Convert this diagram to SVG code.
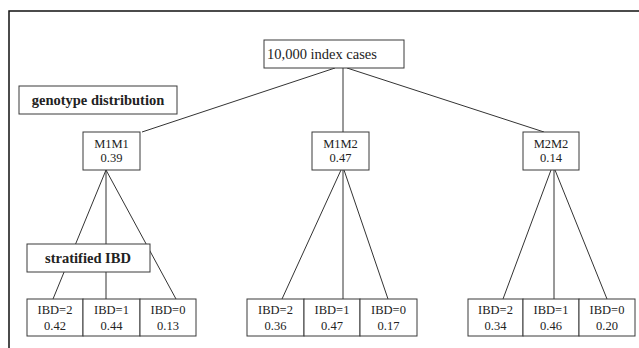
<svg xmlns="http://www.w3.org/2000/svg" width="639" height="348" viewBox="0 0 639 348">
<style>
.box{fill:#fff;stroke:#3a3a3a;stroke-width:1}
.ln{stroke:#333;stroke-width:1;fill:none}
.t{font-family:"Liberation Serif","Times New Roman",serif;fill:#222;text-anchor:middle;font-size:12.5px}
.b{font-family:"Liberation Serif","Times New Roman",serif;fill:#222;text-anchor:middle;font-size:14.5px;font-weight:bold}
</style>
<rect width="639" height="348" fill="#fff"/>
<path d="M9,348 V11 H639" fill="none" stroke="#111" stroke-width="1.5"/>
<g id="connectors">
<line class="ln" x1="335" y1="68" x2="142" y2="132"/>
<line class="ln" x1="343" y1="68" x2="343" y2="132"/>
<line class="ln" x1="347" y1="68" x2="544" y2="132"/>
<line class="ln" x1="106" y1="170" x2="53" y2="299"/>
<line class="ln" x1="106" y1="170" x2="106" y2="299"/>
<line class="ln" x1="106" y1="170" x2="176" y2="299"/>
<line class="ln" x1="341" y1="170" x2="282" y2="299"/>
<line class="ln" x1="343" y1="170" x2="343" y2="299"/>
<line class="ln" x1="344" y1="170" x2="388" y2="299"/>
<line class="ln" x1="551" y1="170" x2="503" y2="299"/>
<line class="ln" x1="554" y1="170" x2="554" y2="299"/>
<line class="ln" x1="555" y1="170" x2="607" y2="299"/>
</g>
<g id="root"><rect class="box" x="264" y="40" width="140" height="28"/><text class="t" x="267" y="59" style="text-anchor:start;font-size:14.5px">10,000 index cases</text></g>
<g id="genotype"><rect class="box" x="19" y="86" width="158" height="28"/><text class="b" x="98" y="105">genotype distribution</text></g>
<g id="m1m1"><rect class="box" x="83" y="132" width="57" height="38"/><text class="t" x="111.5" y="148">M1M1</text><text class="t" x="111.5" y="162">0.39</text></g>
<g id="m1m2"><rect class="box" x="312" y="132" width="57" height="38"/><text class="t" x="340.5" y="148">M1M2</text><text class="t" x="340.5" y="162">0.47</text></g>
<g id="m2m2"><rect class="box" x="523" y="132" width="56" height="38"/><text class="t" x="551" y="148">M2M2</text><text class="t" x="551" y="162">0.14</text></g>
<g id="stratified"><rect class="box" x="27" y="244" width="123" height="28"/><text class="b" x="88" y="263">stratified IBD</text></g>
<g id="a2"><rect class="box" x="27" y="299" width="56" height="37"/><text class="t" x="55" y="314">IBD=2</text><text class="t" x="55" y="330">0.42</text></g>
<g id="a1"><rect class="box" x="83" y="299" width="57" height="37"/><text class="t" x="111.5" y="314">IBD=1</text><text class="t" x="111.5" y="330">0.44</text></g>
<g id="a0"><rect class="box" x="140" y="299" width="56" height="37"/><text class="t" x="168" y="314">IBD=0</text><text class="t" x="168" y="330">0.13</text></g>
<g id="b2"><rect class="box" x="247" y="299" width="57" height="37"/><text class="t" x="275.5" y="314">IBD=2</text><text class="t" x="275.5" y="330">0.36</text></g>
<g id="b1"><rect class="box" x="304" y="299" width="56" height="37"/><text class="t" x="332" y="314">IBD=1</text><text class="t" x="332" y="330">0.47</text></g>
<g id="b0"><rect class="box" x="360" y="299" width="57" height="37"/><text class="t" x="388.5" y="314">IBD=0</text><text class="t" x="388.5" y="330">0.17</text></g>
<g id="c2"><rect class="box" x="468" y="299" width="55" height="37"/><text class="t" x="495.5" y="314">IBD=2</text><text class="t" x="495.5" y="330">0.34</text></g>
<g id="c1"><rect class="box" x="523" y="299" width="56" height="37"/><text class="t" x="551" y="314">IBD=1</text><text class="t" x="551" y="330">0.46</text></g>
<g id="c0"><rect class="box" x="579" y="299" width="56" height="37"/><text class="t" x="607" y="314">IBD=0</text><text class="t" x="607" y="330">0.20</text></g>
</svg>
